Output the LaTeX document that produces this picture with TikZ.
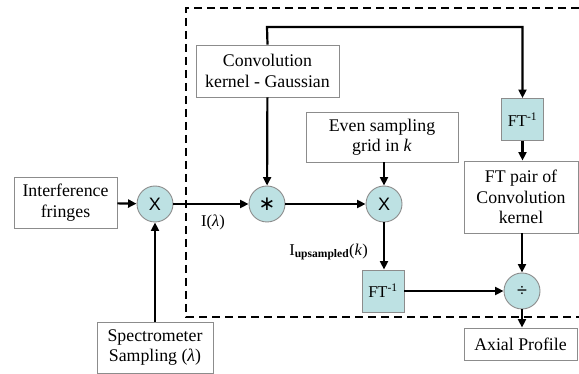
\documentclass[tikz,border=0pt]{standalone}
\usepackage{fontspec}
\setmainfont{Liberation Serif}
\newfontfamily\symfont{Liberation Sans}
\newfontfamily\djv{DejaVu Sans}
\usetikzlibrary{arrows.meta}
\definecolor{tealfill}{HTML}{BDE1E3}
\definecolor{edgegray}{HTML}{8C8C8C}
\tikzset{
  txtbox/.style={draw=edgegray, line width=0.9pt, fill=white, align=center, inner sep=0pt,
    font=\fontsize{17.8}{20.5}\selectfont},
  opcirc/.style={circle, draw=edgegray, line width=0.9pt, fill=tealfill, minimum size=36pt, inner sep=0pt,
    font=\symfont\fontsize{18}{20}\selectfont},
  ftbox/.style={draw=edgegray, line width=0.9pt, fill=tealfill, minimum width=42pt, minimum height=42pt,
    inner sep=0pt, font=\fontsize{16.5}{18}\selectfont},
  conn/.style={line width=2.2pt, -{Triangle[length=8.5pt,width=8pt]}},
  dashbox/.style={line width=1.8pt, dash pattern=on 8pt off 5pt},
  lbl/.style={font=\fontsize{16.5}{18}\selectfont, inner sep=0pt}
}
\begin{document}
\begin{tikzpicture}[x=1pt,y=-1pt]
\useasboundingbox (0,0) rectangle (579,374);
% dashed region
\draw[dashbox] (579,8) -- (186,8) -- (186,317) -- (579,317);
% nodes
\node[txtbox, minimum width=103pt, minimum height=51pt] (fringes) at (65.5,202.5) {Interference\\fringes};
\node[opcirc] (mult1) at (155,204) {X};
\node[txtbox, minimum width=116pt, minimum height=51pt] (spec) at (155,347.5) {Spectrometer\\Sampling (\textit{λ})};
\node[opcirc, font=\djv\fontsize{20}{20}\selectfont] (conv) at (267,204) {∗};
\node[txtbox, minimum width=143pt, minimum height=52pt] (kernel) at (267.5,71) {Convolution\\kernel - Gaussian};
\node[txtbox, minimum width=152pt, minimum height=50pt] (even) at (382,137) {Even sampling\\grid in \textit{k}};
\node[opcirc] (mult2) at (384,204) {X};
\node[ftbox] (ft2) at (383,291) {FT\textsuperscript{-1}};
\node[opcirc] (div) at (522,291) {÷};
\node[ftbox] (ft1) at (522.5,119.5) {FT\textsuperscript{-1}};
\node[txtbox, minimum width=114pt, minimum height=72pt] (pair) at (521,197) {FT pair of\\Convolution\\kernel};
\node[txtbox, minimum width=113pt, minimum height=32pt] (axial) at (520.5,344) {Axial Profile};
\coordinate (topL) at (267,27);
\coordinate (topR) at (522.5,27);
% labels
\node[lbl, anchor=west] (ilam) at (201,222) {I(\textit{λ})};
\node[lbl, anchor=east] (iup) at (368,252) {I\textsubscript{\textbf{upsampled}}(\textit{k})};
% connectors
\draw[conn] (fringes) -- (mult1);
\draw[conn] (spec) -- (mult1);
\draw[conn] (mult1) -- (conv);
\draw[conn] (kernel) -- (conv);
\draw[conn] (conv) -- (mult2);
\draw[conn] (even.south -| mult2) -- (mult2);
\draw[conn] (mult2) -- (ft2.north -| mult2);
\draw[conn] (ft2) -- (div);
\draw[conn] (kernel.north) -- (topL) -- (topR) -- (ft1.north);
\draw[conn] (ft1) -- (ft1.south |- pair.north);
\draw[conn] (pair.south -| div) -- (div);
\draw[conn] (div) -- (axial.north -| div);
\end{tikzpicture}
\end{document}
